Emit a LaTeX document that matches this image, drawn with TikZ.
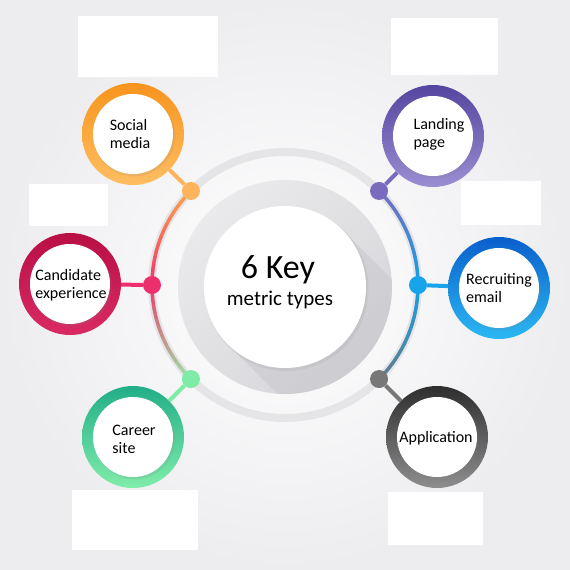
\documentclass[tikz,border=0pt]{standalone}
\usepackage{fontspec}
\setmainfont{Carlito}
\usetikzlibrary{calc}
\definecolor{bgedge}{RGB}{237,237,240}
\definecolor{ringgray}{RGB}{229,229,232}
\definecolor{donutA}{RGB}{234,234,236}
\definecolor{donutB}{RGB}{214,214,218}
\definecolor{shadowg}{RGB}{196,196,200}
\definecolor{orA}{HTML}{F7941D}\definecolor{orB}{HTML}{FFBE62}\definecolor{orD}{HTML}{FDB45C}
\definecolor{puA}{HTML}{5545A0}\definecolor{puB}{HTML}{9C8ED2}\definecolor{puD}{HTML}{7B6BBF}
\definecolor{crA}{HTML}{B80F45}\definecolor{crB}{HTML}{DA2A64}\definecolor{crD}{HTML}{EE2F6E}
\definecolor{blA}{HTML}{0A5FCC}\definecolor{blB}{HTML}{2BB8F3}\definecolor{blD}{HTML}{18A4EA}
\definecolor{gyA}{HTML}{2E2E2E}\definecolor{gyB}{HTML}{8E8E8E}\definecolor{gyD}{HTML}{777777}
\definecolor{gnA}{HTML}{22AE88}\definecolor{gnB}{HTML}{80EDAA}\definecolor{gnD}{HTML}{7EEBA6}
\definecolor{arcOr}{HTML}{FBA94C}\definecolor{arcPk}{HTML}{F0386B}\definecolor{arcGn}{HTML}{9BE6A6}
\definecolor{arcPu}{HTML}{7B6BBF}\definecolor{arcBl}{HTML}{16A0E6}\definecolor{arcSl}{HTML}{667C8A}
\begin{document}
\begin{tikzpicture}[x=1pt,y=-1pt,
  sat/.style={circle, minimum size=102pt, inner sep=0pt, shading angle=45},
  innerdisc/.style={circle, minimum size=80pt, inner sep=0pt, fill=white},
  lbl/.style={align=left, font=\fontsize{16}{18}\selectfont, text=black, inner sep=0pt},
  dotnode/.style={circle, minimum size=18pt, inner sep=0pt},
  conn/.style={line width=4pt},
  arcseg/.style={line width=3.5pt, line cap=round}]
\useasboundingbox (0,0) rectangle (570,570);
\shade[inner color=white, outer color=bgedge] (0,0) rectangle (570,570);
% placeholders
\fill[white] (78,16) rectangle (218,77);
\fill[white] (391,18) rectangle (498,75);
\fill[white] (29,184) rectangle (108,226);
\fill[white] (461,181) rectangle (541,225);
\fill[white] (72,490) rectangle (198,550);
\fill[white] (388,492) rectangle (483,545);
% outer ring
\coordinate (C) at (285,285);
\draw[line width=8pt, ringgray] (C) circle[radius=133];
% coloured arcs
\foreach \i in {0,...,14}{
  \pgfmathsetmacro\aa{135+\i*3}\pgfmathsetmacro\ab{138+\i*3}
  \pgfmathtruncatemacro\p{(\i+0.5)/15*100}
  \draw[arcseg, draw=arcPk!\p!arcOr] ($(C)+(-\aa:133)$) arc[start angle=-\aa, end angle=-\ab, radius=133];
  \pgfmathsetmacro\ba{180+\i*3}\pgfmathsetmacro\bb{183+\i*3}
  \draw[arcseg, draw=arcGn!\p!arcPk] ($(C)+(-\ba:133)$) arc[start angle=-\ba, end angle=-\bb, radius=133];
  \pgfmathsetmacro\ca{45-\i*3}\pgfmathsetmacro\cb{42-\i*3}
  \draw[arcseg, draw=arcBl!\p!arcPu] ($(C)+(-\ca:133)$) arc[start angle=-\ca, end angle=-\cb, radius=133];
  \pgfmathsetmacro\da{-\i*3}\pgfmathsetmacro\db{-3-\i*3}
  \draw[arcseg, draw=arcSl!\p!arcBl] ($(C)+(-\da:133)$) arc[start angle=-\da, end angle=-\db, radius=133];
}
% central donut
\shade[top color=donutA, bottom color=donutB, shading angle=45] (285,287) circle[radius=107];
\begin{scope}
  \clip (285,287) circle[radius=107];
  \fill[shadowg, opacity=0.45] (342.3,229.7) -- (227.7,344.3) -- (427.7,544.3) -- (542.3,429.7) -- cycle;
\end{scope}
\fill[gray, opacity=0.12] (286.5,289) circle[radius=82];
\node[circle, fill=white, minimum size=162pt, inner sep=0pt] (core) at (285,287) {};
\node[font=\fontsize{34}{36}\selectfont, inner sep=0pt] (key) at (278,270) {6 Key};
\node[font=\fontsize{21}{24}\selectfont, inner sep=0pt] (metric) at (280,300) {metric types};
% satellites
\node[sat, top color=orA, bottom color=orB] (s1) at (133,134) {};
\node[sat, top color=puA, bottom color=puB] (s2) at (433,136) {};
\node[sat, top color=crA, bottom color=crB] (s3) at (70,284) {};
\node[sat, top color=blA, bottom color=blB] (s4) at (499,288) {};
\node[sat, top color=gyA, bottom color=gyB] (s5) at (437,437) {};
\node[sat, top color=gnA, bottom color=gnB] (s6) at (133,437) {};
\foreach \s in {s1,s2,s3,s4,s5,s6}{
  \fill[gray, opacity=0.15] ($(\s)+(1.5,2)$) circle[radius=40.5];
  \node[innerdisc] at (\s) {};
}
\node[lbl] (t1) at (130,134) {Social\\media};
\node[lbl] (t2) at (439,134) {Landing\\page};
\node[lbl] (t3) at (71,285) {Candidate\\experience};
\node[lbl] (t4) at (499,288) {Recruiting\\email};
\node[lbl] (t5) at (436,438) {Application};
\node[lbl] (t6) at (134,439) {Career\\site};
% dots
\node[dotnode, fill=orD] (d1) at (190.95,190.95) {};
\node[dotnode, fill=puD] (d2) at (379.05,190.95) {};
\node[dotnode, fill=crD] (d3) at (152,285) {};
\node[dotnode, fill=blD] (d4) at (418,285) {};
\node[dotnode, fill=gyD] (d5) at (379.05,379.05) {};
\node[dotnode, fill=gnD] (d6) at (190.95,379.05) {};
% connectors
\draw[conn, orD] (s1) -- (d1);
\draw[conn, puD] (s2) -- (d2);
\draw[conn, crD] (s3) -- (d3);
\draw[conn, blD] (s4) -- (d4);
\draw[conn, gyD] (s5) -- (d5);
\draw[conn, gnD] (s6) -- (d6);
\end{tikzpicture}
\end{document}
